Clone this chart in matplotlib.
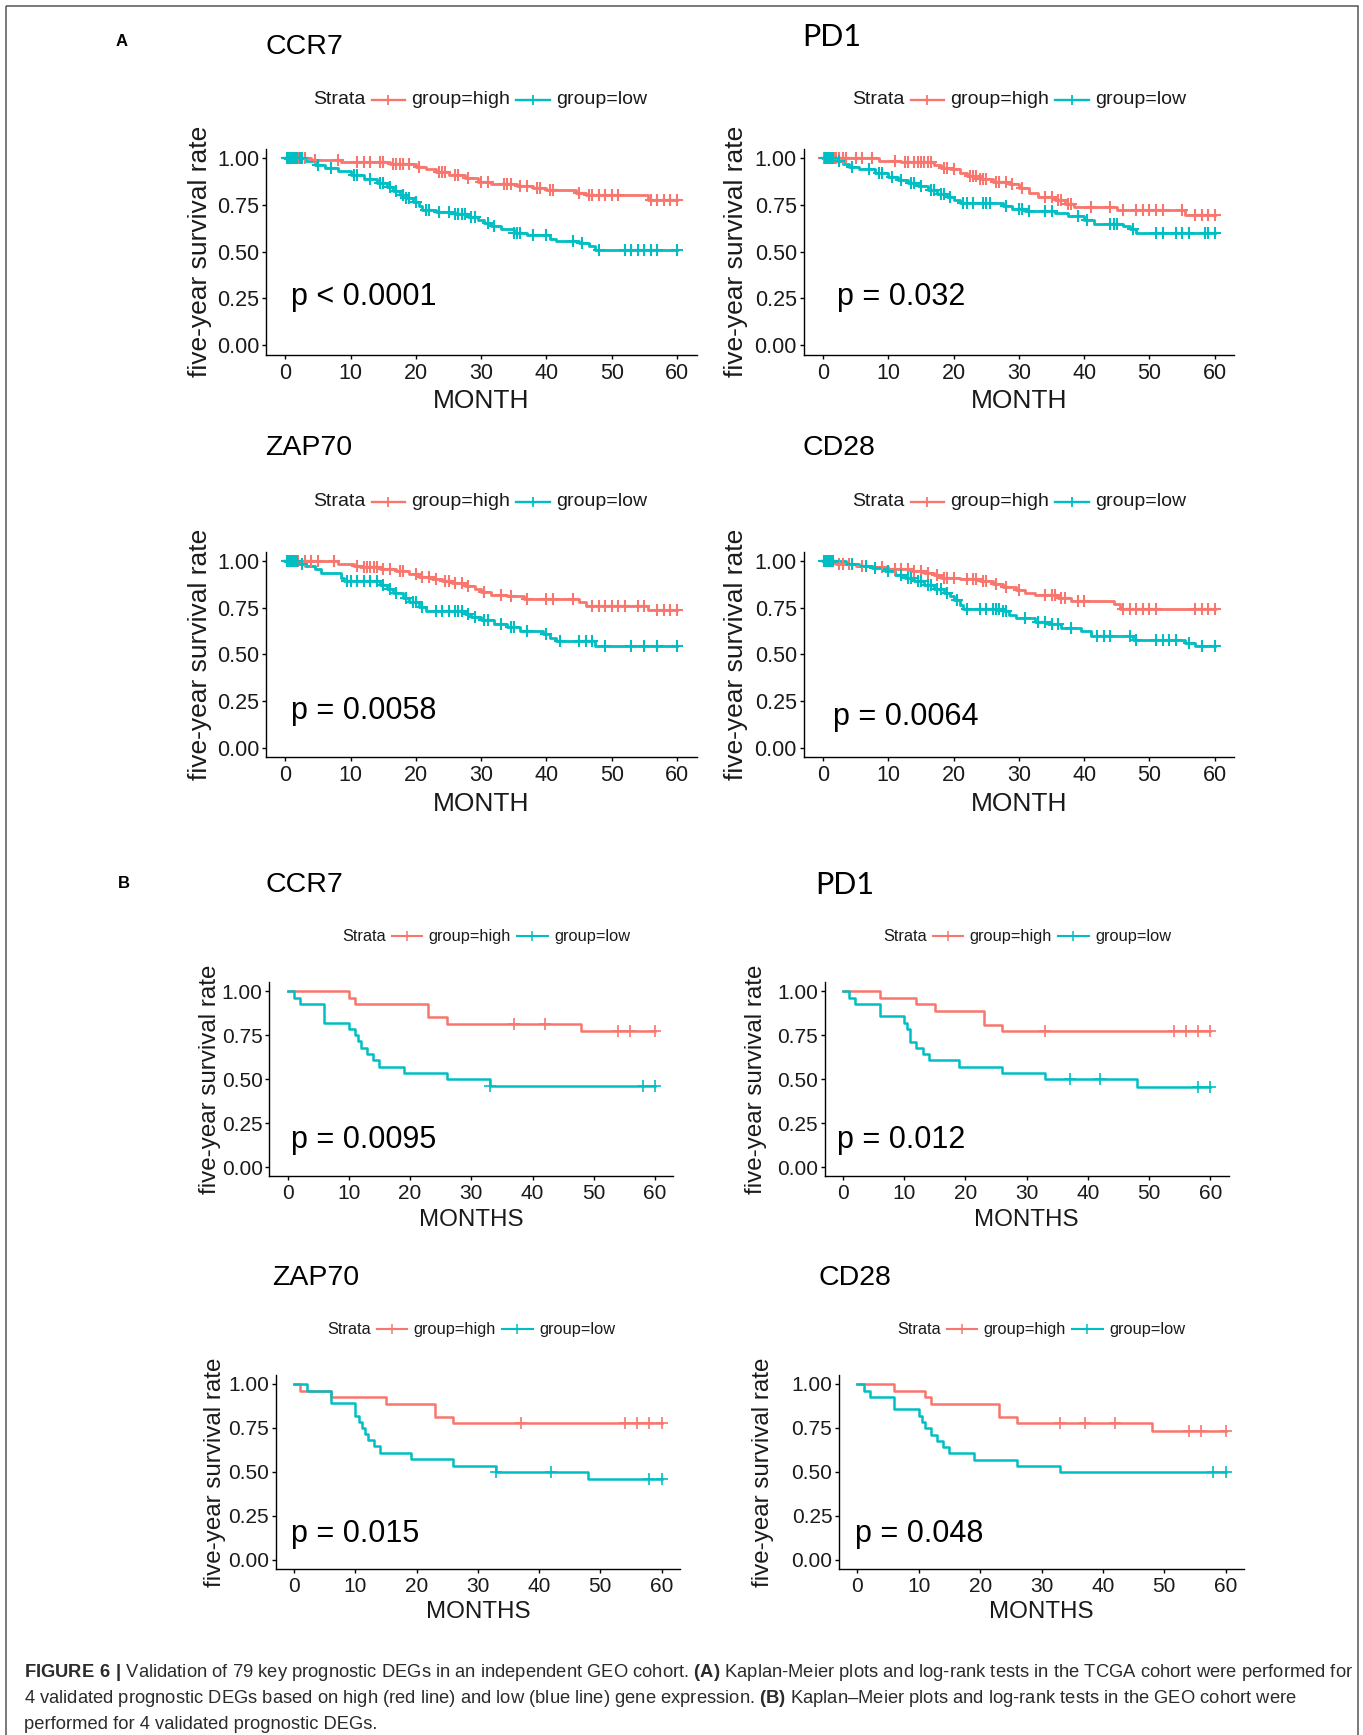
import numpy as np
import matplotlib
matplotlib.use("Agg")
import matplotlib.pyplot as plt
from matplotlib.lines import Line2D
from matplotlib.patches import Rectangle
from matplotlib.offsetbox import HPacker, TextArea, DrawingArea, AnchoredOffsetbox

plt.rcParams['font.family'] = ['Liberation Sans', 'DejaVu Sans']
plt.rcParams['mathtext.fontset'] = 'custom'
plt.rcParams['mathtext.rm'] = 'Liberation Sans'
plt.rcParams['mathtext.bf'] = 'Liberation Sans:bold'

# ---------------- data (event times, survival after event, censor times) ----------------
# A: TCGA cohort
a_ccr7_high_t = [4, 8.5, 16, 20, 21.5, 23, 25, 27.5, 29.5, 31.5, 35.5, 38, 40, 44.5, 46, 55.5]
a_ccr7_high_s = [0.99, 0.98, 0.97, 0.955, 0.94, 0.925, 0.91, 0.895, 0.875, 0.86, 0.85, 0.84, 0.83, 0.815, 0.805, 0.778]
a_ccr7_high_c = [0.3, 0.6, 1, 1.5, 2, 2.5, 3, 4.5, 8, 11, 12, 13, 14.5, 15, 16.5, 17, 17.5, 18, 19, 20.5, 23.5,
                 24, 24.5, 26, 26.5, 28, 30, 31, 33.5, 34, 34.5, 36, 37, 38.5, 39, 40.5, 41, 45, 46.5, 47, 48,
                 49, 50, 51, 56, 57, 58, 59, 60]
a_ccr7_low_t = [3, 4.5, 6, 8, 10, 12, 14, 15.5, 16.5, 17.5, 18.5, 19.5, 20.5, 21, 23, 26, 28, 29.5, 30.5, 31.5,
                33, 35, 37, 40.5, 41.5, 45, 46.5, 47.5]
a_ccr7_low_s = [0.985, 0.965, 0.95, 0.93, 0.91, 0.89, 0.865, 0.845, 0.825, 0.805, 0.785, 0.765, 0.745, 0.725,
                0.71, 0.70, 0.685, 0.67, 0.655, 0.635, 0.62, 0.60, 0.59, 0.57, 0.555, 0.545, 0.53, 0.51]
a_ccr7_low_c = [0.2, 0.4, 0.6, 0.8, 1.0, 1.2, 1.5, 1.8, 2.2, 2.6, 5, 7, 10.5, 11, 13, 14.5, 15, 16, 17, 18, 18.5,
                19, 20, 21.5, 22, 23.5, 25, 26, 26.5, 27, 27.5, 28.5, 29, 31, 32, 35, 35.5, 36, 38, 40, 44,
                45.5, 48, 52, 53, 54, 55, 56, 57, 60]

a_pd1_high_t = [8.5, 12, 17, 18, 19.5, 21, 22, 24, 26, 28.5, 30, 31.5, 33, 35.5, 37, 38.5, 45, 55.5]
a_pd1_high_s = [0.985, 0.98, 0.965, 0.95, 0.94, 0.92, 0.905, 0.89, 0.875, 0.86, 0.84, 0.815, 0.795, 0.775,
                0.755, 0.74, 0.725, 0.695]
a_pd1_high_c = [0.2, 0.5, 0.8, 1.2, 1.6, 2, 2.5, 3, 3.5, 5, 6, 7.5, 11, 12.5, 13, 14, 14.5, 15, 15.5, 16, 16.5,
                18.5, 19, 20, 22.5, 23, 23.5, 24, 24.5, 25, 26.5, 27, 28, 29, 30.5, 34, 35, 36, 36.5, 37.5,
                38, 41, 44, 46, 48, 49, 50, 51, 52, 55, 57, 58, 59, 60]
a_pd1_low_t = [2, 3, 4, 5.5, 8, 10, 11.5, 13, 14.5, 16, 17.5, 19, 20, 21, 27.5, 29, 31, 35.5, 37.5, 40, 41.5,
               46, 47, 48]
a_pd1_low_s = [0.985, 0.97, 0.955, 0.94, 0.92, 0.90, 0.885, 0.865, 0.85, 0.83, 0.81, 0.79, 0.775, 0.76, 0.745,
               0.73, 0.72, 0.705, 0.69, 0.67, 0.65, 0.635, 0.62, 0.60]
a_pd1_low_c = [0.3, 0.6, 0.9, 1.2, 1.5, 2.5, 4.5, 7, 8.5, 9, 10.5, 12, 13.5, 14, 15, 16.5, 17, 18, 18.5, 19.5,
               21.5, 22, 23, 24.5, 25, 25.5, 28, 30, 30.5, 31.5, 34, 35, 39, 40.5, 44, 44.5, 45, 47.5, 51,
               52, 54, 55, 56, 58.5, 59, 60]

a_zap70_high_t = [8, 10.5, 11.5, 14.5, 17, 19, 20.5, 22.5, 24, 25.5, 27.5, 29, 30, 31.5, 34, 36.5, 45, 46, 55.5]
a_zap70_high_s = [0.985, 0.975, 0.965, 0.955, 0.945, 0.93, 0.915, 0.905, 0.89, 0.88, 0.865, 0.85, 0.835,
                  0.82, 0.81, 0.795, 0.78, 0.76, 0.735]
a_zap70_high_c = [0.3, 0.6, 1, 1.5, 2, 3, 4, 5, 7.5, 11, 12, 12.5, 13, 13.5, 14, 15, 16, 17.5, 18, 20, 21, 22,
                  23, 24.5, 25, 26, 27, 28, 30.5, 33, 34.5, 37, 40, 41, 44, 47, 48, 49, 50, 51, 52, 54, 55,
                  57, 58, 59, 60]
a_zap70_low_t = [2, 3, 4.5, 5.5, 8.5, 9, 14.5, 15.5, 16.5, 18, 19, 20.5, 21.5, 27.5, 28.5, 30, 32, 34, 36,
                 39.5, 40.5, 41.5, 47.5]
a_zap70_low_s = [0.985, 0.97, 0.955, 0.935, 0.91, 0.89, 0.87, 0.85, 0.83, 0.80, 0.78, 0.755, 0.73, 0.715,
                 0.70, 0.685, 0.665, 0.645, 0.625, 0.61, 0.585, 0.57, 0.545]
a_zap70_low_c = [0.2, 0.4, 0.6, 0.8, 1.1, 1.4, 1.8, 2.5, 9.5, 10, 11, 12, 13, 14, 15, 16, 17, 18.5, 19.5, 20,
                 21, 23, 24, 25, 26, 26.5, 27, 28, 29, 30.5, 31, 33, 34.5, 35, 37, 40, 42, 45, 46, 47, 49,
                 53, 55, 57, 60]

a_cd28_high_t = [2, 5, 7.5, 10, 13.5, 15.5, 17, 18, 21, 24, 26, 27.5, 29.5, 31, 32.5, 36, 38, 44.5, 45.5]
a_cd28_high_s = [0.985, 0.975, 0.965, 0.955, 0.945, 0.935, 0.925, 0.91, 0.905, 0.89, 0.875, 0.86, 0.845,
                 0.83, 0.815, 0.80, 0.785, 0.77, 0.745]
a_cd28_high_c = [0.3, 0.6, 0.9, 1.2, 1.5, 2.5, 3, 4, 6, 9, 11, 12, 13, 14, 15, 16, 17.5, 18.5, 19, 20, 22, 23,
                 23.5, 24.5, 25, 26.5, 28, 30, 34, 35, 35.5, 36.5, 37, 39, 40, 46, 47, 48, 49, 50, 51, 57,
                 58, 59, 60]
a_cd28_low_t = [3.5, 5.5, 7.5, 9.5, 11, 12.5, 14, 15.5, 17, 18.5, 19.5, 20, 21, 21.5, 27.5, 28.5, 29.5, 32.5,
                34.5, 36.5, 39.5, 41, 47.5, 55.5, 57]
a_cd28_low_s = [0.985, 0.975, 0.96, 0.945, 0.925, 0.91, 0.89, 0.87, 0.85, 0.83, 0.81, 0.79, 0.765, 0.745,
                0.73, 0.71, 0.695, 0.675, 0.66, 0.64, 0.625, 0.60, 0.575, 0.56, 0.545]
a_cd28_low_c = [0.2, 0.4, 0.6, 0.8, 1, 1.2, 1.5, 4.5, 6.5, 8, 10, 12, 13, 13.5, 14.5, 15, 16, 16.5, 17.5, 18,
                19, 20.5, 22, 24, 25, 26, 26.5, 27, 27.5, 28, 31, 33, 34, 35, 36, 38, 42, 43, 44, 47, 48,
                51, 52, 53, 54, 56, 58, 60]

# B: GEO cohort
b_ccr7_high_t = [10, 11, 23, 26, 48]
b_ccr7_high_s = [0.962, 0.925, 0.855, 0.815, 0.775]
b_ccr7_high_c = [37, 42, 54, 56, 60]
b_ccr7_low_t = [1, 2, 6, 10, 11, 11.5, 12, 13, 14, 15, 19, 26, 33]
b_ccr7_low_s = [0.962, 0.925, 0.82, 0.785, 0.75, 0.715, 0.68, 0.645, 0.61, 0.57, 0.535, 0.50, 0.46]
b_ccr7_low_c = [33, 58, 60]

b_pd1_high_t = [6, 12, 15, 23, 26]
b_pd1_high_s = [0.962, 0.925, 0.885, 0.81, 0.775]
b_pd1_high_c = [33, 54, 56, 58, 60]
b_pd1_low_t = [1, 2, 6, 10, 10.5, 11, 12, 13, 14, 19, 26, 33, 48]
b_pd1_low_s = [0.964, 0.929, 0.857, 0.821, 0.786, 0.714, 0.679, 0.643, 0.607, 0.571, 0.536, 0.50, 0.455]
b_pd1_low_c = [37, 42, 58, 60]

b_zap70_high_t = [1, 6, 15, 23, 26]
b_zap70_high_s = [0.962, 0.925, 0.885, 0.81, 0.775]
b_zap70_high_c = [37, 54, 56, 58, 60]
b_zap70_low_t = [2, 6, 10, 10.5, 11, 11.5, 12, 13, 14, 19, 26, 33, 48]
b_zap70_low_s = [0.962, 0.89, 0.82, 0.785, 0.75, 0.715, 0.68, 0.645, 0.61, 0.572, 0.536, 0.50, 0.46]
b_zap70_low_c = [33, 42, 58, 60]

b_cd28_high_t = [6, 11, 12, 23, 26, 48]
b_cd28_high_s = [0.962, 0.925, 0.885, 0.81, 0.775, 0.73]
b_cd28_high_c = [33, 37, 42, 54, 56, 60]
b_cd28_low_t = [1, 2, 6, 10, 10.5, 11, 12, 13, 14, 15, 19, 26, 33]
b_cd28_low_s = [0.962, 0.925, 0.855, 0.82, 0.785, 0.75, 0.71, 0.675, 0.64, 0.605, 0.57, 0.535, 0.50]
b_cd28_low_c = [58, 60]

genes = ['CCR7', 'PD1', 'ZAP70', 'CD28']
a_pvalues = ['p < 0.0001', 'p = 0.032', 'p = 0.0058', 'p = 0.0064']
b_pvalues = ['p = 0.0095', 'p = 0.012', 'p = 0.015', 'p = 0.048']
x_ticks = [0, 10, 20, 30, 40, 50, 60]
y_ticks = [0.0, 0.25, 0.5, 0.75, 1.0]
y_ticklabels = ['0.00', '0.25', '0.50', '0.75', '1.00']
legend_title = 'Strata'
legend_labels = ['group=high', 'group=low']

caption_lines = [
    r"$\mathbf{FIGURE\ 6\ |}$ Validation of 79 key prognostic DEGs in an independent GEO cohort. "
    r"$\mathbf{(A)}$ Kaplan-Meier plots and log-rank tests in the TCGA cohort were performed for",
    r"4 validated prognostic DEGs based on high (red line) and low (blue line) gene expression. "
    r"$\mathbf{(B)}$ Kaplan–Meier plots and log-rank tests in the GEO cohort were",
    "performed for 4 validated prognostic DEGs.",
]

# ---------------- figure ----------------
W, H = 1363, 1735
DPI = 100
fig = plt.figure(figsize=(W / DPI, H / DPI), dpi=DPI)
fig.patch.set_facecolor('white')

RED = '#F8766D'
BLUE = '#00BFC4'
TXT = '#1a1a1a'


def fx(x):
    return x / W


def fy(y):
    return 1 - y / H


# overlay for frame and caption (pixel coordinates)
over = fig.add_axes([0, 0, 1, 1], zorder=0)
over.set_xlim(0, W)
over.set_ylim(H, 0)
over.axis('off')
over.add_patch(Rectangle((6, 6), 1352, 1760, fill=False, ec='#555555', lw=1.1, clip_on=True))


def km(ax, t, s, c, color, lw, ms, mew):
    tt = [0.0] + list(t)
    ss = [1.0] + list(s)
    end = max(max(c), tt[-1])
    tt.append(end)
    ss.append(ss[-1])
    ax.step(tt, ss, where='post', color=color, lw=lw, zorder=3)
    idx = np.searchsorted(np.array(tt[:-1]), np.array(c), side='right') - 1
    cy = np.array(ss)[idx]
    ax.plot(c, cy, ls='none', marker='+', color=color, ms=ms, mew=mew, zorder=4)


def legend(cx, cy, fs, keyw, ms, mew, lw):
    items = [TextArea(legend_title, textprops=dict(size=fs, color=TXT))]
    for col, lab in zip([RED, BLUE], legend_labels):
        da = DrawingArea(keyw, 10, 0, 0)
        da.add_artist(Line2D([1, keyw - 1], [5, 5], color=col, lw=lw))
        da.add_artist(Line2D([keyw / 2], [5], marker='+', ms=ms, mew=mew, color=col))
        items.append(da)
        items.append(TextArea(lab, textprops=dict(size=fs, color=TXT)))
    pack = HPacker(children=items, align='center', pad=0, sep=3.5)
    box = AnchoredOffsetbox(loc='center', child=pack, frameon=False, pad=0, borderpad=0,
                            bbox_to_anchor=(fx(cx), fy(cy)), bbox_transform=fig.transFigure)
    fig.add_artist(box)


panels = [
    # cohort A
    dict(g=0, data=(a_ccr7_high_t, a_ccr7_high_s, a_ccr7_high_c, a_ccr7_low_t, a_ccr7_low_s, a_ccr7_low_c),
         box=(265.8, 148.8, 696.6, 354.6), title=(265.5, 46.5), leg=(480, 99.6), ylab=200, xlab=400.5,
         p=a_pvalues[0], pxy=(0.85, 0.26), xl='MONTH', A=True),
    dict(g=1, data=(a_pd1_high_t, a_pd1_high_s, a_pd1_high_c, a_pd1_low_t, a_pd1_low_s, a_pd1_low_c),
         box=(803.5, 148.8, 1234.3, 354.6), title=(802, 36.5), leg=(1019, 99.6), ylab=735.7, xlab=400.5,
         p=a_pvalues[1], pxy=(2.2, 0.26), xl='MONTH', A=True),
    dict(g=2, data=(a_zap70_high_t, a_zap70_high_s, a_zap70_high_c, a_zap70_low_t, a_zap70_low_s, a_zap70_low_c),
         box=(265.8, 551.5, 696.6, 757.3), title=(265.5, 448), leg=(480, 502), ylab=200, xlab=804.3,
         p=a_pvalues[2], pxy=(0.85, 0.195), xl='MONTH', A=True),
    dict(g=3, data=(a_cd28_high_t, a_cd28_high_s, a_cd28_high_c, a_cd28_low_t, a_cd28_low_s, a_cd28_low_c),
         box=(803.5, 551.5, 1234.3, 757.3), title=(803, 448), leg=(1019, 502), ylab=735.7, xlab=804.3,
         p=a_pvalues[3], pxy=(1.5, 0.166), xl='MONTH', A=True),
    # cohort B
    dict(g=0, data=(b_ccr7_high_t, b_ccr7_high_s, b_ccr7_high_c, b_ccr7_low_t, b_ccr7_low_s, b_ccr7_low_c),
         box=(269.3, 982.4, 673.3, 1176), title=(265.5, 885), leg=(486, 936), ylab=210, xlab=1220,
         p=b_pvalues[0], pxy=(0.5, 0.157), xl='MONTHS', A=False),
    dict(g=1, data=(b_pd1_high_t, b_pd1_high_s, b_pd1_high_c, b_pd1_low_t, b_pd1_low_s, b_pd1_low_c),
         box=(824.6, 982.4, 1228.7, 1176), title=(815, 885), leg=(1027, 936), ylab=755.6, xlab=1220,
         p=b_pvalues[1], pxy=(-0.9, 0.157), xl='MONTHS', A=False),
    dict(g=2, data=(b_zap70_high_t, b_zap70_high_s, b_zap70_high_c, b_zap70_low_t, b_zap70_low_s, b_zap70_low_c),
         box=(275.9, 1375.1, 679.9, 1568.7), title=(272, 1278), leg=(471, 1329), ylab=214.6, xlab=1612,
         p=b_pvalues[2], pxy=(-0.5, 0.145), xl='MONTHS', A=False),
    dict(g=3, data=(b_cd28_high_t, b_cd28_high_s, b_cd28_high_c, b_cd28_low_t, b_cd28_low_s, b_cd28_low_c),
         box=(839, 1375.1, 1244.1, 1568.7), title=(819, 1278), leg=(1041, 1329), ylab=763, xlab=1612,
         p=b_pvalues[3], pxy=(-0.4, 0.145), xl='MONTHS', A=False),
]

for pnl in panels:
    L, T, R, B = pnl['box']
    ax = fig.add_axes([fx(L), fy(B), (R - L) / W, (B - T) / H], zorder=2)
    ax.patch.set_alpha(0)
    isA = pnl['A']
    lw = 2.0 if isA else 1.8
    ms = 8.0 if isA else 9.0
    mew = 1.5 if isA else 1.2
    ht, hs, hc, lt, ls_, lc = pnl['data']
    km(ax, ht, hs, hc, RED, lw, ms, mew)
    km(ax, lt, ls_, lc, BLUE, lw, ms, mew)
    ax.set_xlim(-3, 63)
    ax.set_ylim(-0.05, 1.05)
    ax.set_xticks(x_ticks)
    ax.set_yticks(y_ticks)
    ax.set_yticklabels(y_ticklabels)
    for sp in ['top', 'right']:
        ax.spines[sp].set_visible(False)
    for sp in ['left', 'bottom']:
        ax.spines[sp].set_linewidth(1.0)
        ax.spines[sp].set_color('black')
    tfs = 15.5 if isA else 15
    ax.tick_params(axis='both', length=3.2, width=1.0, colors='black', labelsize=tfs, labelcolor=TXT)
    ax.tick_params(axis='y', pad=1.6)
    ax.tick_params(axis='x', pad=2.5)
    # p-value
    ax.text(pnl['pxy'][0], pnl['pxy'][1], pnl['p'], fontsize=22, ha='left', va='center', color='black')
    # axis titles
    afs = 19 if isA else 17.4
    fig.text(fx(pnl['ylab']), fy((T + B) / 2), 'five-year survival rate', rotation=90,
             ha='center', va='center', fontsize=afs, color=TXT)
    fig.text(fx((L + R) / 2), fy(pnl['xlab']), pnl['xl'], ha='center', va='center', fontsize=afs, color=TXT)
    # title
    gname = genes[pnl['g']]
    if gname == 'PD1':
        fig.text(fx(pnl['title'][0]), fy(pnl['title'][1]), gname, ha='left', va='center',
                 fontsize=22, family=['Lato', 'DejaVu Sans'], color='black')
    else:
        fig.text(fx(pnl['title'][0]), fy(pnl['title'][1]), gname, ha='left', va='center',
                 fontsize=20.5, color='black')
    # legend
    if isA:
        legend(pnl['leg'][0], pnl['leg'][1], 14, 26, 7.5, 1.3, 1.7)
    else:
        legend(pnl['leg'][0], pnl['leg'][1], 11.8, 24, 7, 1.1, 1.5)

# panel letters
fig.text(fx(122), fy(41), 'A', fontsize=12, fontweight='bold', ha='center', va='center', color='black')
fig.text(fx(124), fy(883), 'B', fontsize=12, fontweight='bold', ha='center', va='center', color='black')

# caption
for i, line in enumerate(caption_lines):
    over.text(24, 1677 + 26 * i, line, fontsize=13.2, ha='left', va='baseline', color='#2b2b2b')

fig.savefig('out.png', dpi=DPI, facecolor='white')
